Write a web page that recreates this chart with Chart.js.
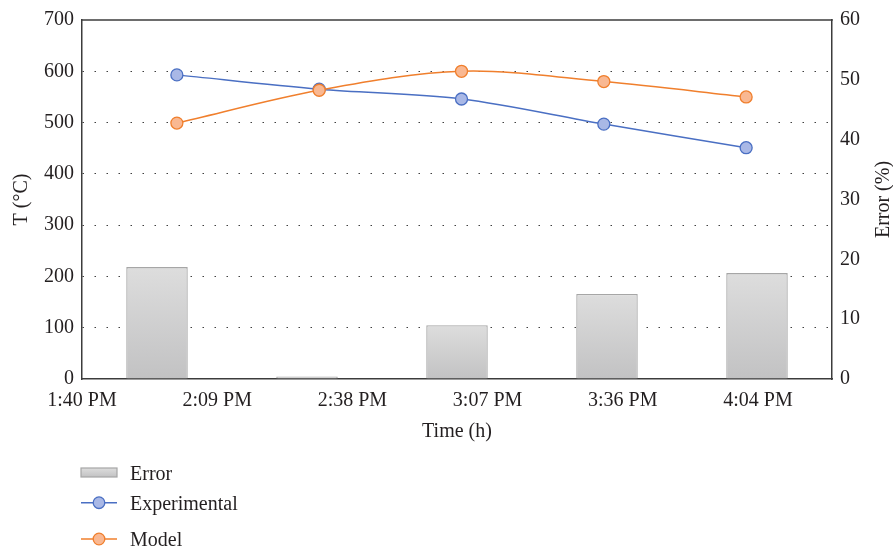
<!DOCTYPE html>
<html><head><meta charset="utf-8">
<script src="https://cdn.jsdelivr.net/npm/chart.js@4.4.1/dist/chart.umd.min.js"></script>
<style>html,body{margin:0;padding:0;background:#fff;overflow:hidden}#wrap{width:893px;height:549px;position:relative}</style>
</head><body><div id="wrap"><canvas id="c" width="893" height="549"></canvas></div>
<script>
// ---- data ----
const timeLabels = ['1:40 PM', '2:09 PM', '2:38 PM', '3:07 PM', '3:36 PM', '4:04 PM'];
const tickMinutes = [0, 28.5, 57, 85.5, 114, 142.5];      // minutes after 1:40 PM
const axisMaxMinutes = 158.1;
const sampleLabels = ['2:00 PM', '2:30 PM', '3:00 PM', '3:30 PM', '4:00 PM'];
const sampleMinutes = [20, 50, 80, 110, 140];
const errorPct = [18.7, 0.4, 9.0, 14.2, 17.7];
const experimentalT = [593, 565, 546, 497, 451];
const modelT = [499, 563, 600, 580, 550];
const seriesNames = ['Error', 'Experimental', 'Model'];
const xTitle = 'Time (h)';
const yTitle = 'T (°C)';
const y2Title = 'Error (%)';

// ---- style ----
const FONT = "'Liberation Serif','Times New Roman','DejaVu Serif',serif";
const TEXT = '#231f20';
const AXIS = '#3c3c3c';
const BLUE = '#4a6fc3', BLUE_FILL = '#a9b8e6';
const ORANGE = '#f07f2d', ORANGE_FILL = '#f9b892';

function grayGradient(c, top, bottom) {
  const g = c.createLinearGradient(0, top, 0, bottom);
  g.addColorStop(0, '#dddddd');
  g.addColorStop(1, '#c2c2c3');
  return g;
}
function barFill(ctx) {
  const chart = ctx.chart;
  const ys = chart.scales && chart.scales.y2;
  if (!ys || ctx.type !== 'data') return '#d0d0d0';
  const top = ys.getPixelForValue(ctx.raw);
  const bottom = ys.getPixelForValue(0);
  if (!isFinite(top) || !isFinite(bottom) || bottom - top < 1) return '#cfcfcf';
  return grayGradient(chart.ctx, top, bottom);
}

const decor = {
  id: 'decor',
  afterDraw(chart) {
    const c = chart.ctx, a = chart.chartArea;
    c.save();
    c.strokeStyle = AXIS; c.lineWidth = 1.5;
    c.beginPath(); c.moveTo(a.left - 0.75, a.top); c.lineTo(a.right + 0.75, a.top); c.stroke();
    c.font = '20px ' + FONT; c.fillStyle = TEXT;
    c.textAlign = 'center'; c.textBaseline = 'middle';
    c.translate(884, (a.top + a.bottom) / 2);
    c.rotate(-Math.PI / 2);
    c.fillText(y2Title, 0, 0);
    c.restore();

    c.save();
    c.font = '20px ' + FONT; c.fillStyle = TEXT;
    c.textAlign = 'left'; c.textBaseline = 'alphabetic';
    const ds = chart.data.datasets;
    const rows = [{y: 472.5, base: 480}, {y: 502.7, base: 510}, {y: 539, base: 545.7}];
    ds.forEach((d, i) => {
      const r = rows[i];
      if (d.type === 'bar') {
        c.fillStyle = grayGradient(c, r.y - 4.5, r.y + 4.5);
        c.fillRect(81, r.y - 4.5, 36, 9);
        c.strokeStyle = '#a6a6a6'; c.lineWidth = 1.2;
        c.strokeRect(81, r.y - 4.5, 36, 9);
      } else {
        c.strokeStyle = d.borderColor; c.lineWidth = 1.5;
        c.beginPath(); c.moveTo(81, r.y); c.lineTo(117, r.y); c.stroke();
        c.beginPath(); c.arc(99, r.y, 5.8, 0, Math.PI * 2);
        c.fillStyle = d.pointBackgroundColor; c.fill();
        c.lineWidth = 1.3; c.strokeStyle = d.pointBorderColor; c.stroke();
      }
      c.fillStyle = TEXT;
      c.fillText(d.label, 130, r.base);
    });
    c.restore();
  }
};

const toPts = (vals) => sampleMinutes.map((m, i) => ({x: m, y: vals[i]}));

new Chart(document.getElementById('c'), {
  type: 'bar',
  data: {
    labels: sampleLabels,
    datasets: [
      {
        type: 'bar', label: seriesNames[0], data: errorPct,
        xAxisID: 'xb', yAxisID: 'y2', order: 3, grouped: false,
        backgroundColor: barFill, borderColor: '#a6a6a6', borderWidth: 1.3,
        barPercentage: 0.41, categoryPercentage: 1
      },
      {
        type: 'line', label: seriesNames[1], data: toPts(experimentalT),
        xAxisID: 'x', yAxisID: 'y', order: 2,
        borderColor: BLUE, borderWidth: 1.5, tension: 0.33,
        pointRadius: 6, pointBorderWidth: 1.3,
        pointBackgroundColor: BLUE_FILL, pointBorderColor: BLUE, fill: false
      },
      {
        type: 'line', label: seriesNames[2], data: toPts(modelT),
        xAxisID: 'x', yAxisID: 'y', order: 1,
        borderColor: ORANGE, borderWidth: 1.5, tension: 0.33,
        pointRadius: 6, pointBorderWidth: 1.3,
        pointBackgroundColor: ORANGE_FILL, pointBorderColor: ORANGE, fill: false
      }
    ]
  },
  options: {
    responsive: false,
    animation: false,
    events: [],
    layout: {padding: {top: 18, left: 0, right: 0, bottom: 105}},
    plugins: {legend: {display: false}, tooltip: {enabled: false}},
    scales: {
      x: {
        type: 'linear', position: 'bottom', min: 0, max: axisMaxMinutes, offset: false,
        afterBuildTicks: (s) => { s.ticks = tickMinutes.map(v => ({value: v})); },
        ticks: {
          autoSkip: false, maxRotation: 0, minRotation: 0, padding: 10,
          color: TEXT, font: {family: FONT, size: 20},
          callback: (v, i) => timeLabels[i]
        },
        grid: {display: false, drawTicks: false, offset: false},
        border: {display: true, color: AXIS, width: 1.5},
        title: {display: true, text: xTitle, color: TEXT, font: {family: FONT, size: 20}, padding: {top: -3, bottom: 0}}
      },
      xb: {
        type: 'category', display: false, offset: true,
        grid: {display: false}
      },
      y: {
        type: 'linear', position: 'left', min: 0, max: 700,
        afterFit: (s) => { s.width = 82; },
        ticks: {stepSize: 100, padding: 8, color: TEXT, font: {family: FONT, size: 20}},
        grid: {
          drawTicks: false, lineWidth: 1,
          color: (ctx) => (ctx.tick && (ctx.tick.value === 0 || ctx.tick.value === 700)) ? 'rgba(0,0,0,0)' : '#404040'
        },
        border: {display: true, color: AXIS, width: 1.5, dash: [1.5, 10.5], dashOffset: 0},
        title: {display: true, text: yTitle, color: TEXT, font: {family: FONT, size: 20}, padding: {top: 10, bottom: 0}}
      },
      y2: {
        type: 'linear', position: 'right', min: 0, max: 60,
        afterFit: (s) => { s.width = 61; },
        ticks: {stepSize: 10, padding: 8, color: TEXT, font: {family: FONT, size: 20}},
        grid: {drawOnChartArea: false, drawTicks: false},
        border: {display: true, color: AXIS, width: 1.5},
        title: {display: false, text: y2Title}
      }
    }
  },
  plugins: [decor]
});
</script>
</body></html>
